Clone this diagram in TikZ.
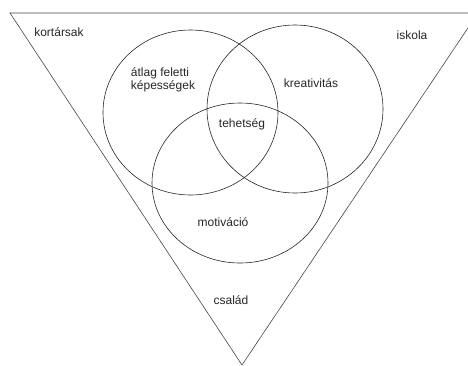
\documentclass[tikz,border=0pt]{standalone}
\usepackage{fontspec}
\setmainfont{Liberation Sans}
\usetikzlibrary{positioning}
\definecolor{venngray}{RGB}{70,70,70}

\begin{document}
\begin{tikzpicture}[
    x=1pt, y=-1pt,
    frame/.style={line width=0.6pt, venngray},
    set/.style={line width=0.6pt, black!85},
    label/.style={font=\fontsize{12}{13.5}\selectfont, text=black!85, inner sep=0pt}
]

% Page
\useasboundingbox (0,0) rectangle (468,365);
\clip (0,0) rectangle (468,365);

% Surrounding triangle
\draw[frame] (10,13) -- (478,13) -- (242,365) -- cycle;

% The three sets
\draw[set] (190.5,112.5) ellipse [x radius=87.5, y radius=82.5];
\draw[set] (295,109) ellipse [x radius=88, y radius=84];
\draw[set] (240,183) ellipse [x radius=88, y radius=80];

% Environment labels
\node[label] (peers) at (59,32) {kortársak};
\node[label] (school) at (412,35) {iskola};
\node[label] (family) at (231,300) {család};

% Set labels
\node[label, align=left] (ability) at (163,80) {átlag feletti\\képességek};
\node[label] (creativity) at (311,83) {kreativitás};
\node[label] (motivation) at (223,222) {motiváció};
\node[label] (talent) at (242,124) {tehetség};

\end{tikzpicture}
\end{document}
